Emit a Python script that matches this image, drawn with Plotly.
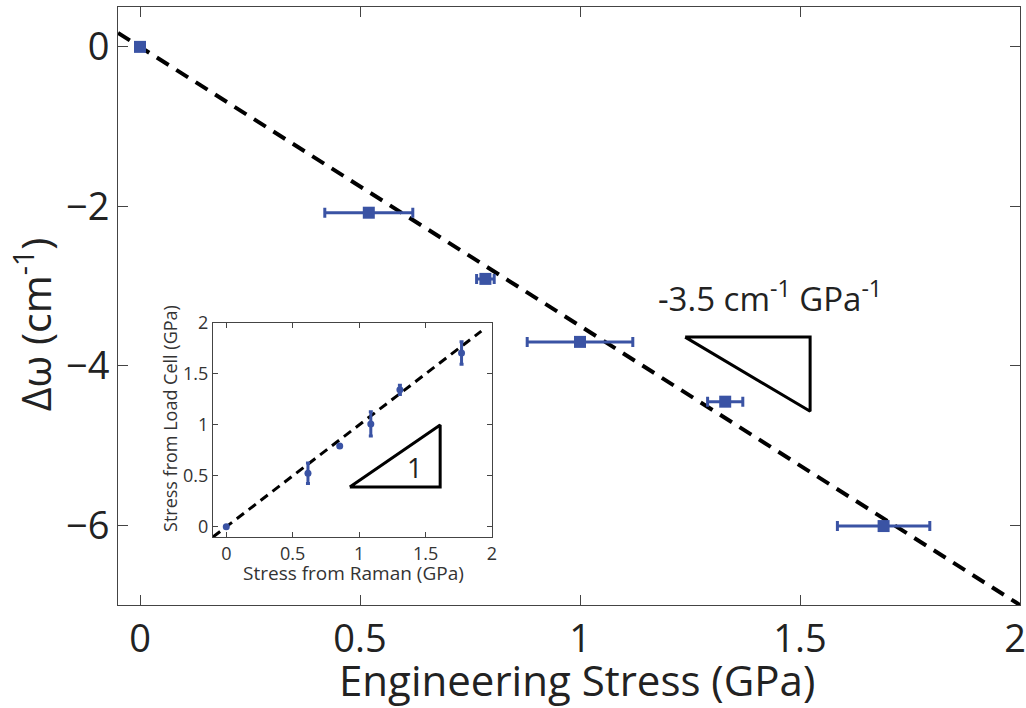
import plotly.graph_objects as go

# ---------------- data ----------------
# main panel: engineering stress (load cell) vs Raman shift
stress = [0.0, 0.52, 0.785, 1.00, 1.33, 1.69]
stress_err = [0.01, 0.10, 0.02, 0.12, 0.04, 0.105]
delta_omega = [0.0, -2.08, -2.91, -3.70, -4.45, -6.01]
fit_slope = -3.5
fit_x = [-0.05, 2.0]

# inset: stress from Raman vs stress from load cell
raman_stress = [0.0, 0.615, 0.854, 1.088, 1.307, 1.771]
loadcell_stress = [0.0, 0.525, 0.793, 1.01, 1.344, 1.705]
loadcell_err = [0.0, 0.10, 0.01, 0.12, 0.045, 0.11]
inset_fit_x = [-0.1, 1.92]

main_xticks = [0, 0.5, 1, 1.5, 2]
main_xticklabels = ["0", "0.5", "1", "1.5", "2\u00a0"]
main_yticks = [0, -2, -4, -6]
inset_ticks = [0, 0.5, 1, 1.5, 2]
inset_ticklabels = ["0", "0.5", "1", "1.5", "2"]

# slope triangles (annotation guides)
tri_main_x = [1.239, 1.523, 1.523, 1.239]
tri_main_y = [-3.64, -3.64, -4.57, -3.64]
tri_inset_x = [0.93, 1.61, 1.61, 0.93]
tri_inset_y = [0.39, 1.0, 0.39, 0.39]

BLUE = "#3A53A4"
FONT = "Open Sans"
TXT = "#222"

fig = go.Figure()

# main fit line
fig.add_trace(go.Scatter(
    x=fit_x, y=[fit_slope * v for v in fit_x], mode="lines",
    line=dict(color="black", width=4, dash="14px,9px"),
    xaxis="x", yaxis="y", hoverinfo="skip", showlegend=False))

# main data
fig.add_trace(go.Scatter(
    x=stress, y=delta_omega, mode="markers",
    marker=dict(symbol="square", size=12, color=BLUE),
    error_x=dict(type="data", array=stress_err, color=BLUE, thickness=3, width=5),
    xaxis="x", yaxis="y", showlegend=False))

# main triangle
fig.add_trace(go.Scatter(
    x=tri_main_x, y=tri_main_y, mode="lines",
    line=dict(color="black", width=3),
    xaxis="x", yaxis="y", hoverinfo="skip", showlegend=False))

# inset fit line
fig.add_trace(go.Scatter(
    x=inset_fit_x, y=inset_fit_x, mode="lines",
    line=dict(color="black", width=3, dash="9px,6px"),
    xaxis="x2", yaxis="y2", hoverinfo="skip", showlegend=False))

# inset data
fig.add_trace(go.Scatter(
    x=raman_stress, y=loadcell_stress, mode="markers",
    marker=dict(symbol="circle", size=7, color=BLUE),
    error_y=dict(type="data", array=loadcell_err, color=BLUE, thickness=3, width=2),
    xaxis="x2", yaxis="y2", showlegend=False))

# inset triangle
fig.add_trace(go.Scatter(
    x=tri_inset_x, y=tri_inset_y, mode="lines",
    line=dict(color="black", width=3),
    xaxis="x2", yaxis="y2", hoverinfo="skip", showlegend=False))

axis_common = dict(showgrid=False, zeroline=False, showline=True, linecolor="#444",
                   linewidth=1, mirror="allticks", ticks="inside", tickcolor="#444",
                   automargin=False, ticklabeloverflow="allow")

fig.update_layout(
    width=1026, height=708, autosize=False,
    margin=dict(l=118, r=6, t=7, b=103, autoexpand=False),
    paper_bgcolor="white", plot_bgcolor="white",
    font=dict(family=FONT, color=TXT),
    xaxis=dict(**axis_common, domain=[0, 1], range=[-0.05, 2.0],
               tickvals=main_xticks, ticktext=main_xticklabels, ticklen=10,
               tickfont=dict(size=38, color=TXT), anchor="y"),
    yaxis=dict(**axis_common, domain=[0, 1], range=[-7.0, 0.5],
               tickvals=main_yticks, ticklen=10,
               tickfont=dict(size=38, color=TXT), anchor="x"),
    xaxis2=dict(**axis_common, domain=[0.1053, 0.4146], range=[-0.1, 2.0],
                tickvals=inset_ticks, ticktext=inset_ticklabels, ticklen=5,
                tickfont=dict(size=18, color="#333"), anchor="y2"),
    yaxis2=dict(**axis_common, domain=[0.1137, 0.4716], range=[-0.1, 2.0],
                tickvals=inset_ticks, ticktext=inset_ticklabels, ticklen=5,
                tickfont=dict(size=18, color="#333"), anchor="x2"),
    annotations=[
        # main axis titles
        dict(x=0.509, y=-0.125, xref="paper", yref="paper", xanchor="center", yanchor="middle",
             text="Engineering Stress (GPa)", showarrow=False,
             font=dict(size=42, color=TXT, family=FONT)),
        dict(x=-0.094, y=0.47, xref="paper", yref="paper", xanchor="center", yanchor="middle",
             text="Δω (cm<sup>-1</sup>)", textangle=-90, showarrow=False,
             font=dict(size=41, color=TXT, family=FONT)),
        # inset axis titles
        dict(x=0.505, y=-0.17, xref="x2 domain", yref="y2 domain", xanchor="center", yanchor="middle",
             text="Stress from Raman (GPa)", showarrow=False,
             font=dict(size=19, color="#333", family=FONT)),
        dict(x=-0.155, y=0.555, xref="x2 domain", yref="y2 domain", xanchor="center", yanchor="middle",
             text="Stress from Load Cell (GPa)", textangle=-90, showarrow=False,
             font=dict(size=18, color="#333", family=FONT)),
        # slope labels
        dict(x=1.432, y=-3.13, xref="x", yref="y",
             text="-3.5 cm<sup>-1</sup> GPa<sup>-1</sup>", showarrow=False,
             font=dict(size=33, color=TXT, family=FONT)),
        dict(x=1.42, y=0.58, xref="x2", yref="y2", text="1", showarrow=False,
             font=dict(size=27, color=TXT, family=FONT)),
    ],
)

fig.write_html("out.html")
